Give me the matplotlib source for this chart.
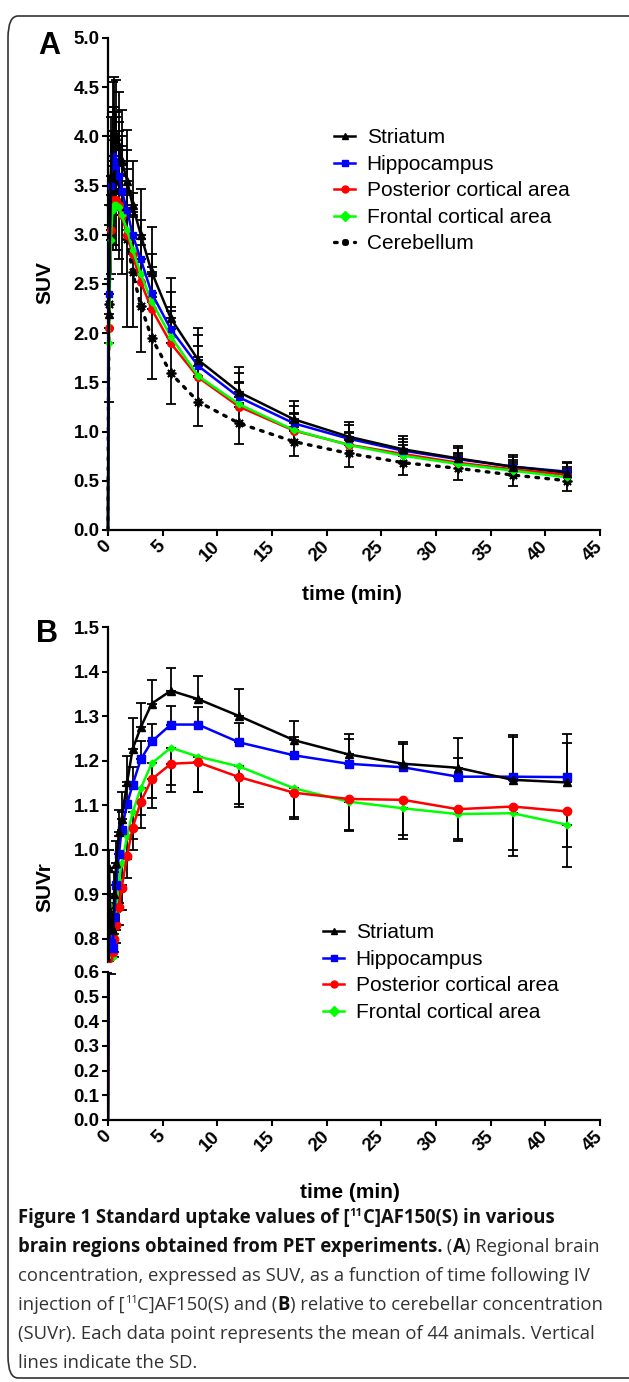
import matplotlib
matplotlib.use("Agg")
import matplotlib.pyplot as plt
from matplotlib.patches import FancyBboxPatch
import numpy as np

W, H = 629, 1382

# ---- data ----
# frame mid times (min)
time = [0, 0.08, 0.25, 0.42, 0.58, 0.75, 1.0, 1.25, 1.75, 2.25, 3.0, 4.0, 5.75, 8.25, 12, 17, 22, 27, 32, 37, 42]

# panel A: SUV
striatum_suv = [0, 2.2, 3.6, 4.0, 4.05, 4.0, 3.9, 3.75, 3.55, 3.3, 3.0, 2.62, 2.15, 1.728, 1.40, 1.125, 0.949, 0.82, 0.728, 0.644, 0.583]
striatum_suv_sd = [0, 0.9, 0.6, 0.55, 0.55, 0.57, 0.55, 0.52, 0.52, 0.45, 0.47, 0.46, 0.41, 0.32, 0.26, 0.19, 0.15, 0.135, 0.13, 0.12, 0.11]
hippo_suv = [0, 2.4, 3.5, 3.8, 3.75, 3.7, 3.6, 3.45, 3.25, 3.0, 2.75, 2.405, 2.04, 1.667, 1.348, 1.084, 0.928, 0.806, 0.72, 0.644, 0.593]
hippo_suv_sd = [0, 0.6, 0.5, 0.5, 0.5, 0.5, 0.45, 0.45, 0.42, 0.42, 0.4, 0.4, 0.38, 0.31, 0.25, 0.18, 0.14, 0.12, 0.11, 0.10, 0.09]
post_suv = [0, 2.05, 3.05, 3.3, 3.35, 3.35, 3.3, 3.2, 3.0, 2.8, 2.52, 2.243, 1.897, 1.551, 1.253, 1.01, 0.867, 0.772, 0.684, 0.617, 0.559]
post_suv_sd = [0, 0.5, 0.45, 0.45, 0.45, 0.45, 0.42, 0.42, 0.4, 0.4, 0.38, 0.36, 0.33, 0.32, 0.25, 0.18, 0.13, 0.12, 0.1, 0.09, 0.08]
front_suv = [0, 1.9, 2.95, 3.25, 3.3, 3.3, 3.28, 3.2, 3.05, 2.85, 2.6, 2.32, 1.965, 1.565, 1.277, 1.016, 0.864, 0.755, 0.671, 0.603, 0.535]
front_suv_sd = [0, 0.5, 0.45, 0.45, 0.45, 0.45, 0.42, 0.4, 0.4, 0.38, 0.36, 0.35, 0.3, 0.19, 0.22, 0.16, 0.12, 0.11, 0.1, 0.09, 0.08]
cereb_suv = [0, 2.3, 3.3, 3.55, 3.6, 3.55, 3.45, 3.3, 2.96, 2.62, 2.28, 1.95, 1.592, 1.304, 1.084, 0.898, 0.779, 0.684, 0.627, 0.559, 0.501]
cereb_suv_sd = [0, 1.0, 0.7, 0.7, 0.7, 0.7, 0.7, 0.7, 0.9, 0.56, 0.47, 0.42, 0.31, 0.25, 0.21, 0.15, 0.135, 0.125, 0.12, 0.11, 0.1]

# panel B: SUVr
striatum_suvr = [0, 0.96, 0.83, 0.82, 0.90, 0.97, 1.04, 1.07, 1.151, 1.226, 1.275, 1.328, 1.357, 1.338, 1.300, 1.246, 1.214, 1.193, 1.184, 1.157, 1.151]
striatum_suvr_sd = [0, 0.04, 0.04, 0.04, 0.05, 0.05, 0.05, 0.06, 0.06, 0.07, 0.055, 0.052, 0.051, 0.051, 0.06, 0.044, 0.045, 0.048, 0.066, 0.10, 0.109]
hippo_suvr = [0, 0.84, 0.79, 0.78, 0.85, 0.92, 0.99, 1.045, 1.103, 1.146, 1.203, 1.243, 1.281, 1.281, 1.241, 1.212, 1.193, 1.185, 1.164, 1.164, 1.163]
hippo_suvr_sd = [0, 0.03, 0.03, 0.03, 0.03, 0.04, 0.04, 0.04, 0.04, 0.04, 0.04, 0.04, 0.041, 0.040, 0.043, 0.04, 0.055, 0.052, 0.043, 0.09, 0.076]
post_suvr = [0, 0.74, 0.72, 0.77, 0.80, 0.83, 0.872, 0.915, 0.987, 1.049, 1.108, 1.158, 1.193, 1.196, 1.163, 1.128, 1.114, 1.112, 1.091, 1.097, 1.086]
post_suvr_sd = [0, 0.04, 0.13, 0.04, 0.04, 0.04, 0.04, 0.05, 0.05, 0.05, 0.06, 0.064, 0.048, 0.066, 0.06, 0.055, 0.069, 0.078, 0.067, 0.097, 0.08]
front_suvr = [0, 0.875, 0.78, 0.76, 0.81, 0.86, 0.93, 0.97, 1.03, 1.084, 1.138, 1.194, 1.229, 1.209, 1.187, 1.138, 1.108, 1.093, 1.080, 1.082, 1.056]
front_suvr_sd = [0, 0.04, 0.04, 0.04, 0.04, 0.04, 0.05, 0.05, 0.05, 0.06, 0.06, 0.077, 0.10, 0.08, 0.09, 0.068, 0.065, 0.07, 0.06, 0.095, 0.095]

names = ["Striatum", "Hippocampus", "Posterior cortical area", "Frontal cortical area", "Cerebellum"]

plt.rcParams['font.family'] = ['Liberation Sans', 'DejaVu Sans']

fig = plt.figure(figsize=(W / 100, H / 100), dpi=100)
marks = list(range(1, len(time)))  # no marker on the t=0 point


def px_axes(l, t, r, b):
    return fig.add_axes([l / W, 1 - b / H, (r - l) / W, (b - t) / H])


def style(ax, xaxis=True):
    for s in ['top', 'right']:
        ax.spines[s].set_visible(False)
    ax.spines['left'].set_linewidth(1.6)
    ax.spines['bottom'].set_linewidth(1.6)
    ax.tick_params(width=1.5, length=4, pad=2, labelsize=13.5)
    for lab in ax.get_yticklabels():
        lab.set_fontweight('bold')
    ax.set_xlim(0, 45)
    ax.set_xticks(range(0, 50, 5))
    if xaxis:
        ax.set_xticklabels([str(v) for v in range(0, 50, 5)], rotation=45, ha='right',
                           va='center', rotation_mode='anchor', fontweight='bold')
        ax.tick_params(axis='x', pad=6)
    else:
        ax.spines['bottom'].set_visible(False)
        ax.tick_params(axis='x', bottom=False, labelbottom=False)


def ebar(ax, y, sd, direction, clip=True):
    sd = np.array(sd)
    z = np.zeros_like(sd)
    if direction == 'up':
        err = [z, sd]
    elif direction == 'down':
        err = [sd, z]
    else:
        err = [sd, sd]
    eb = ax.errorbar(time, y, yerr=err, fmt='none', ecolor='black', elinewidth=1.3,
                     capsize=3.5, capthick=1.3, zorder=2)
    for a in eb.lines[1] + eb.lines[2]:
        a.set_clip_on(clip)


# ---- panel A ----
axA = px_axes(108, 38, 600, 530)
ebar(axA, cereb_suv, cereb_suv_sd, 'both', False)
ebar(axA, post_suv, post_suv_sd, 'up', False)
ebar(axA, front_suv, front_suv_sd, 'up', False)
ebar(axA, hippo_suv, hippo_suv_sd, 'up', False)
ebar(axA, striatum_suv, striatum_suv_sd, 'up', False)
lc = axA.plot(time, cereb_suv, color='black', ls=(0, (0.8, 2.2)), lw=2.4, dash_capstyle='round',
              marker=(8, 2, 0), ms=7, mew=1.3, markevery=marks, zorder=3, clip_on=False)[0]
lr = axA.plot(time, post_suv, color='#ff0000', lw=1.8, marker='o', ms=5.5, markevery=marks,
              zorder=4, clip_on=False)[0]
lg = axA.plot(time, front_suv, color='#00ff00', lw=1.8, marker='D', ms=3.5, markevery=marks,
              zorder=5, clip_on=False)[0]
lb = axA.plot(time, hippo_suv, color='#0000ff', lw=1.8, marker='s', ms=5, markevery=marks,
              zorder=6, clip_on=False)[0]
lk = axA.plot(time, striatum_suv, color='black', lw=1.8, marker='^', ms=5.5, markevery=marks,
              zorder=7, clip_on=False)[0]
axA.set_ylim(0, 5)
axA.set_yticks(np.arange(0, 5.01, 0.5))
axA.set_yticklabels([f"{v:.1f}" for v in np.arange(0, 5.01, 0.5)])
style(axA)

legA = fig.legend([lk, lb, lr, lg, lc], names, loc='upper left',
                  bbox_to_anchor=(326 / W, 1 - 120 / H), frameon=False, fontsize=15,
                  handlelength=1.0, handletextpad=0.55, labelspacing=0.36, borderaxespad=0)
for h in legA.legend_handles:
    h.set_markersize(5)

# ---- panel B (broken y axis) ----
axB = px_axes(108, 627, 600, 962)
axB2 = px_axes(108, 972, 600, 1120)
for ax in (axB, axB2):
    ebar(ax, striatum_suvr, striatum_suvr_sd, 'up')
    ebar(ax, hippo_suvr, hippo_suvr_sd, 'up')
    ebar(ax, front_suvr, front_suvr_sd, 'down')
    ebar(ax, post_suvr, post_suvr_sd, 'down')
    g = ax.plot(time, front_suvr, color='#00ff00', lw=1.8, marker='D', ms=3.5, markevery=marks, zorder=4)[0]
    r = ax.plot(time, post_suvr, color='#ff0000', lw=1.8, marker='o', ms=6, markevery=marks, zorder=5)[0]
    b = ax.plot(time, hippo_suvr, color='#0000ff', lw=1.8, marker='s', ms=5.5, markevery=marks, zorder=6)[0]
    k = ax.plot(time, striatum_suvr, color='black', lw=1.8, marker='^', ms=5.5, markevery=marks, zorder=7)[0]
axB.set_ylim(0.748, 1.5)
axB.set_yticks(np.arange(0.8, 1.501, 0.1))
axB.set_yticklabels([f"{v:.1f}" for v in np.arange(0.8, 1.501, 0.1)])
axB2.set_ylim(0, 0.6)
axB2.set_yticks(np.arange(0, 0.601, 0.1))
axB2.set_yticklabels([f"{v:.1f}" for v in np.arange(0, 0.601, 0.1)])
style(axB, xaxis=False)
style(axB2)

legB = fig.legend([k, b, r, g], names[:4], loc='upper left',
                  bbox_to_anchor=(315 / W, 1 - 915 / H), frameon=False, fontsize=15,
                  handlelength=1.0, handletextpad=0.55, labelspacing=0.36, borderaxespad=0)
for h in legB.legend_handles:
    h.set_markersize(5)

# ---- labels ----
def ftext(x, y, s, **kw):
    return fig.text(x / W, 1 - y / H, s, **kw)

ftext(49, 46, "A", fontsize=22, fontweight='bold', ha='center', va='center')
ftext(47, 634, "B", fontsize=22, fontweight='bold', ha='center', va='center')
ftext(45, 283, "SUV", fontsize=15, fontweight='bold', rotation=90, ha='center', va='center')
ftext(45, 887, "SUVr", fontsize=15, fontweight='bold', rotation=90, ha='center', va='center')
ftext(352, 594, "time (min)", fontsize=15, fontweight='bold', ha='center', va='center')
ftext(350, 1193, "time (min)", fontsize=15, fontweight='bold', ha='center', va='center')

# ---- caption ----
renderer = fig.canvas.get_renderer()
cap_font = ['Open Sans', 'DejaVu Sans']
probe = ftext(0, 0, "injection of [11C]AF150(S) and (B) relative to cerebellar concentration",
              fontsize=12, family=cap_font)
cap_size = 12 * 590 / probe.get_window_extent(renderer).width
probe.remove()

caption = [
    [("Figure 1 Standard uptake values of [", 'bold', 0), ("11", 'bold', 1), ("C]AF150(S) in various", 'bold', 0)],
    [("brain regions obtained from PET experiments.", 'bold', 0), (" (", 'normal', 0), ("A", 'bold', 0),
     (") Regional brain", 'normal', 0)],
    [("concentration, expressed as SUV, as a function of time following IV", 'normal', 0)],
    [("injection of [", 'normal', 0), ("11", 'normal', 1), ("C]AF150(S) and (", 'normal', 0), ("B", 'bold', 0),
     (") relative to cerebellar concentration", 'normal', 0)],
    [("(SUVr). Each data point represents the mean of 44 animals. Vertical", 'normal', 0)],
    [("lines indicate the SD.", 'normal', 0)],
]
baselines = [1223, 1252, 1281, 1310, 1339, 1368]
for runs, yb in zip(caption, baselines):
    x = 18
    for s, wt, sup in runs:
        size = cap_size * (0.6 if sup else 1.0)
        dy = 7 if sup else 0
        col = '#111111' if wt == 'bold' else '#333333'
        t = ftext(x, yb - dy, s, fontsize=size, fontweight=wt, family=cap_font,
                  color=col, ha='left', va='baseline')
        x += t.get_window_extent(renderer).width

# ---- rounded frame ----
frame = FancyBboxPatch((8 / W, 4 / H), 700 / W, (1366 - 4) / H,
                       boxstyle="round,pad=0,rounding_size=0.016", transform=fig.transFigure,
                       fill=False, lw=1.2, edgecolor='#333333', clip_on=False)
fig.patches.append(frame)

fig.savefig("out.png", dpi=100)
